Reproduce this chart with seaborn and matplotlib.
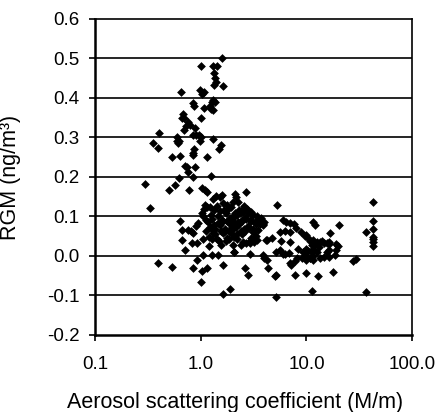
import matplotlib
matplotlib.use("Agg")
import matplotlib.pyplot as plt
import seaborn as sns
import pandas as pd
from matplotlib.ticker import FixedLocator, FixedFormatter, NullLocator

sns.set_style("white")
plt.rcParams['font.family'] = ['Liberation Sans', 'DejaVu Sans']
plt.rcParams['axes.unicode_minus'] = False

# upper branch (RGM rising with scattering near 1 M/m)
upper_x = [1.58, 1.00, 1.30, 1.41, 1.34, 1.37, 1.34, 1.39, 1.64, 0.65, 0.99, 1.07, 1.02,
           1.31, 1.27, 1.36, 0.84, 0.87, 1.23, 1.25, 1.07, 1.30, 0.68, 0.66, 0.70, 1.00,
           0.76, 0.79, 0.88, 0.72, 0.69, 0.40, 0.85, 0.90, 0.96, 1.00, 0.61, 0.62, 0.35,
           1.30, 1.56, 1.50, 0.99, 0.86, 0.84, 0.85, 0.39, 0.53, 0.63, 1.14, 0.71, 0.74,
           0.88, 0.76, 0.62, 0.84, 1.25, 0.30, 0.57, 0.50, 0.78, 1.02, 1.10, 1.14, 0.59,
           0.60]
upper_y = [0.500, 0.482, 0.480, 0.480, 0.463, 0.450, 0.433, 0.440, 0.429, 0.414, 0.420, 0.415, 0.410,
           0.395, 0.390, 0.390, 0.386, 0.380, 0.380, 0.373, 0.374, 0.370, 0.360, 0.350, 0.348, 0.349,
           0.340, 0.332, 0.324, 0.328, 0.320, 0.311, 0.305, 0.305, 0.306, 0.300, 0.285, 0.290, 0.287,
           0.295, 0.280, 0.270, 0.290, 0.270, 0.260, 0.255, 0.273, 0.250, 0.254, 0.250, 0.228, 0.225,
           0.224, 0.213, 0.197, 0.200, 0.203, 0.183, 0.180, 0.167, 0.167, 0.172, 0.167, 0.163, 0.300,
           0.290]

# scattered points below 0.17
lower_x = [0.33, 0.39, 0.54, 0.64, 0.67, 0.76, 0.80, 0.84, 0.67, 0.71, 0.82, 0.92, 0.90, 0.94,
           1.02, 1.07, 1.14, 1.22, 0.85, 0.93, 1.02, 1.14, 1.00, 1.06, 1.27, 1.47, 1.20, 1.04,
           1.64, 1.61, 1.89, 1.30, 1.39, 1.58, 1.53, 2.10, 2.68, 2.03, 2.15, 2.53, 2.80, 3.00,
           3.40, 3.90, 5.30, 42.9, 1.10, 2.07, 2.60, 2.80, 4.36, 5.00, 5.20, 7.80, 9.90, 13.0,
           17.9, 27.8, 29.5, 5.20, 11.2, 36.6, 42.9, 42.9, 42.9, 42.9, 42.9, 42.9, 36.4, 11.6,
           12.1, 16.7, 20.5, 13.5, 14.5, 16.2, 16.4, 16.2, 19.2, 19.7, 19.0, 13.5, 14.5, 16.2,
           18.6, 6.0, 6.4, 7.0, 7.6, 8.0, 8.8, 9.6, 10.0, 10.4, 10.8, 11.2, 9.8, 10.3, 11.0,
           11.8, 9.6, 10.0, 10.7, 11.5, 12.5, 11.5, 12.0, 7.0, 7.2, 7.8, 8.1, 9.0, 9.8, 10.9,
           11.6, 5.6, 6.3, 7.0, 5.8, 7.0, 5.2, 5.6, 6.3, 6.9, 4.2, 4.7, 3.9, 4.0, 4.2, 3.9, 4.0,
           3.7, 3.1, 3.3, 3.4, 3.2, 2.9, 3.0, 3.5, 2.5, 2.7, 2.9, 4.1, 2.07, 2.9, 6.0, 12.5,
           14.0, 15.5, 8.4, 9.2, 13.2, 15.6]
lower_y = [0.122, -0.019, -0.027, 0.089, 0.066, 0.066, 0.062, 0.058, 0.040, 0.015, 0.032, 0.032, 0.076, 0.084,
           0.110, 0.119, 0.125, 0.125, -0.031, -0.010, -0.037, -0.031, -0.067, 0.003, 0.003, 0.003, 0.024, 0.043,
           -0.023, -0.097, -0.084, 0.145, 0.152, 0.155, 0.150, 0.158, 0.163, 0.137, 0.150, 0.120, 0.116, 0.110,
           0.100, 0.080, 0.129, 0.137, 0.130, 0.010, -0.031, -0.048, -0.031, -0.050, -0.048, -0.048, -0.044, -0.052,
           -0.040, -0.012, -0.007, -0.103, -0.088, -0.091, 0.089, 0.068, 0.049, 0.042, 0.036, 0.024, 0.060, 0.087,
           0.078, 0.057, 0.078, 0.036, 0.033, 0.036, 0.030, 0.015, 0.030, 0.026, 0.015, -0.005, -0.002, -0.002,
           0.002, 0.091, 0.087, 0.083, 0.080, 0.070, 0.060, 0.050, 0.053, 0.046, 0.037, 0.027, 0.018, 0.012, 0.012,
           0.015, 0.008, 0.000, -0.004, 0.000, 0.010, 0.040, 0.030, -0.019, -0.023, -0.012, -0.006, -0.006, -0.010, -0.006,
           -0.010, 0.060, 0.063, 0.060, 0.038, 0.036, 0.011, 0.015, 0.005, 0.008, 0.040, 0.045, 0.003, -0.006, -0.010, 0.078, 0.087,
           0.095, 0.060, 0.050, 0.040, 0.035, 0.033, 0.045, 0.065, 0.036, 0.033, 0.038, 0.040, 0.009, 0.005, 0.005, 0.035,
           0.038, 0.032, 0.018, 0.010, 0.022, 0.010]

# dense cluster around 1-4 M/m
cluster_x = [1.05, 1.11, 1.16, 1.21, 1.26, 1.31, 1.36, 1.43, 1.12, 1.19, 1.24, 1.29, 1.34, 1.37,
             1.45, 1.47, 1.53, 1.57, 1.61, 1.49, 1.51, 1.59, 1.64, 1.68, 1.71, 1.77, 1.66, 1.74,
             1.79, 1.84, 1.87, 1.92, 1.81, 1.89, 1.96, 1.99, 2.04, 2.08, 1.94, 2.01, 2.07, 2.12,
             2.14, 2.22, 2.13, 2.19, 2.27, 2.31, 2.38, 2.45, 2.29, 2.37, 2.44, 2.48, 2.58, 2.63,
             2.52, 2.61, 2.66, 2.77, 2.85, 2.72, 2.79, 2.92, 3.02, 3.12, 2.97, 3.14, 3.23, 3.36,
             3.48, 3.62, 1.33, 1.44, 1.27, 1.56, 1.72, 1.86, 2.02, 2.21, 2.41, 1.62, 1.76, 2.26,
             2.58]
cluster_y = [0.101, 0.092, 0.087, 0.074, 0.072, 0.058, 0.055, 0.043, 0.063, 0.047, 0.103, 0.093, 0.078, 0.068,
             0.102, 0.084, 0.078, 0.062, 0.057, 0.037, 0.113, 0.091, 0.088, 0.069, 0.063, 0.046, 0.117, 0.108,
             0.089, 0.083, 0.064, 0.058, 0.118, 0.097, 0.091, 0.073, 0.068, 0.047, 0.123, 0.102, 0.098, 0.080,
             0.073, 0.055, 0.109, 0.103, 0.087, 0.081, 0.063, 0.055, 0.117, 0.108, 0.092, 0.088, 0.069, 0.062,
             0.112, 0.097, 0.093, 0.075, 0.071, 0.118, 0.108, 0.092, 0.088, 0.067, 0.112, 0.103, 0.087, 0.081,
             0.093, 0.082, 0.117, 0.126, 0.042, 0.028, 0.037, 0.042, 0.027, 0.043, 0.028, 0.133, 0.128, 0.137,
             0.127]

df = pd.DataFrame({
    "scat": upper_x + lower_x + cluster_x,
    "rgm": upper_y + lower_y + cluster_y,
})

x_ticks = [0.1, 1, 10, 100]
x_labels = ["0.1", "1.0", "10.0", "100.0"]
y_ticks = [-0.2, -0.1, 0.0, 0.1, 0.2, 0.3, 0.4, 0.5, 0.6]
y_labels = ["-0.2", "-0.1", "0.0", "0.1", "0.2", "0.3", "0.4", "0.5", "0.6"]

fig = plt.figure(figsize=(4.38, 4.12), dpi=100)
ax = fig.add_axes([0.217, 0.187, 0.724, 0.767])

sns.scatterplot(data=df, x="scat", y="rgm", marker="D", color="black",
                s=20, linewidth=0, ax=ax, zorder=3)

ax.set_xscale("log")
ax.set_xlim(0.1, 100)
ax.set_ylim(-0.2, 0.6)
ax.xaxis.set_major_locator(FixedLocator(x_ticks))
ax.xaxis.set_major_formatter(FixedFormatter(x_labels))
ax.xaxis.set_minor_locator(NullLocator())
ax.yaxis.set_major_locator(FixedLocator(y_ticks))
ax.yaxis.set_major_formatter(FixedFormatter(y_labels))

for yv in y_ticks[1:-1]:
    ax.axhline(yv, color="black", lw=1.2, zorder=1)

for side in ["left", "bottom"]:
    ax.spines[side].set_linewidth(1.8)
for side in ["top", "right"]:
    ax.spines[side].set_linewidth(1.2)
for sp in ax.spines.values():
    sp.set_color("black")
    sp.set_visible(True)

ax.tick_params(axis="both", direction="out", length=4, width=1.2, color="black",
               labelsize=13.5, labelcolor="black", bottom=True, left=True)
ax.tick_params(axis="x", pad=11)
ax.tick_params(axis="y", pad=7)

ax.set_xlabel("Aerosol scattering coefficient (M/m)", fontsize=15.5, color="black")
ax.set_ylabel("RGM (ng/m³)", fontsize=15.5, color="black")
ax.xaxis.set_label_coords(0.44, -0.18)
ax.yaxis.set_label_coords(-0.235, 0.5)

fig.savefig("out.png", dpi=100)
